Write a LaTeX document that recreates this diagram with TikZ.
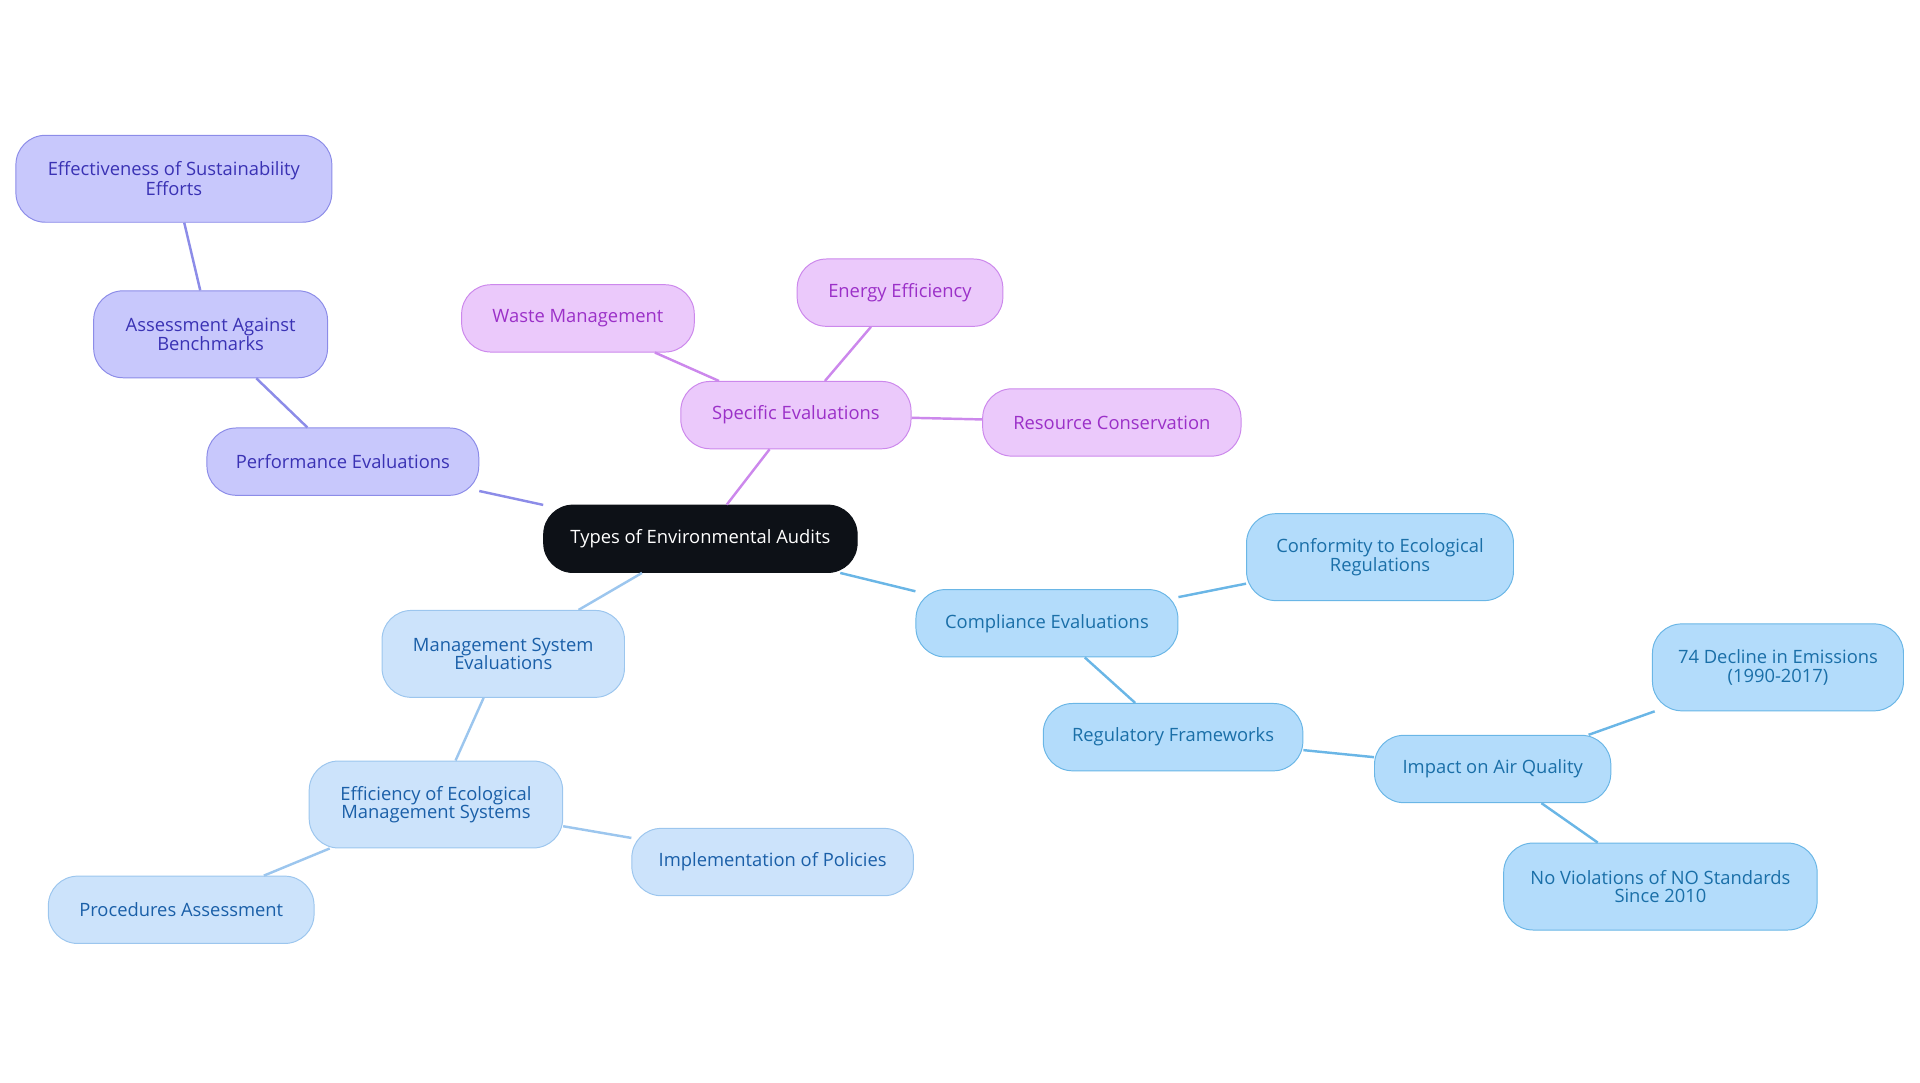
\documentclass[tikz,border=0pt]{standalone}
\usepackage{fontspec}
\setmainfont{Open Sans}
\definecolor{rootc}{HTML}{0D1117}
\definecolor{pf}{HTML}{EBC9FB}\definecolor{ps}{HTML}{CC88EC}\definecolor{pt}{HTML}{9B30C8}
\definecolor{vf}{HTML}{C8C8FC}\definecolor{vs}{HTML}{8C8CE8}\definecolor{vt}{HTML}{3A32B4}
\definecolor{lf}{HTML}{CCE3FB}\definecolor{ls}{HTML}{9CC6EE}\definecolor{lt}{HTML}{1A5FA8}
\definecolor{cf}{HTML}{B3DCFB}\definecolor{cs}{HTML}{6AB6E6}\definecolor{ct}{HTML}{1A6FA8}
\tikzset{
 base/.style={rounded corners=24pt, align=center, font=\fontsize{15}{15}\selectfont, inner sep=0pt, line width=0.8pt},
 rootn/.style={base, fill=rootc, draw=rootc, text=white},
 pur/.style={base, fill=pf, draw=ps, text=pt},
 vio/.style={base, fill=vf, draw=vs, text=vt},
 lbl/.style={base, fill=lf, draw=ls, text=lt},
 cya/.style={base, fill=cf, draw=cs, text=ct},
 pe/.style={ps, line width=2pt}, ve/.style={vs, line width=2pt},
 le/.style={ls, line width=2pt}, ce/.style={cs, line width=2pt}}
\begin{document}
\begin{tikzpicture}[x=1pt,y=-1pt]
\useasboundingbox (0,0) rectangle (1568,884);
\newcommand{\nd}[6]{\node[#1, minimum width=#4pt, minimum height=#5pt] (#2) at #3 {#6};}
\nd{rootn}{root}{(572,440)}{256}{55}{Types of Environmental Audits}
\nd{pur}{spec}{(650,339)}{188}{55}{Specific Evaluations}
\nd{pur}{waste}{(472,260)}{190}{55}{Waste Management}
\nd{pur}{energy}{(735,239)}{168}{55}{Energy Efficiency}
\nd{pur}{res}{(908,345)}{211}{55}{Resource Conservation}
\nd{vio}{perf}{(280,377)}{222}{55}{Performance Evaluations}
\nd{vio}{bench}{(172,273)}{191}{71}{Assessment Against\\Benchmarks}
\nd{vio}{sust}{(142,146)}{258}{71}{Effectiveness of Sustainability\\Efforts}
\nd{lbl}{mse}{(411,534)}{198}{71}{Management System\\Evaluations}
\nd{lbl}{eems}{(356,657)}{207}{71}{Efficiency of Ecological\\Management Systems}
\nd{lbl}{proc}{(148,743)}{217}{55}{Procedures Assessment}
\nd{lbl}{impl}{(631,704)}{230}{55}{Implementation of Policies}
\nd{cya}{comp}{(855,509)}{214}{55}{Compliance Evaluations}
\nd{cya}{conf}{(1127,455)}{218}{71}{Conformity to Ecological\\Regulations}
\nd{cya}{reg}{(958,602)}{212}{55}{Regulatory Frameworks}
\nd{cya}{air}{(1219,628)}{193}{55}{Impact on Air Quality}
\nd{cya}{decl}{(1452,545)}{205}{71}{74 Decline in Emissions\\(1990-2017)}
\nd{cya}{nov}{(1356,724)}{256}{71}{No Violations of NO Standards\\Since 2010}
\begin{scope}[on background layer/.style={}]
\end{scope}
\draw[pe] (root) -- (spec); \draw[pe] (spec) -- (waste); \draw[pe] (spec) -- (energy); \draw[pe] (spec) -- (res);
\draw[ve] (root) -- (perf); \draw[ve] (perf) -- (bench); \draw[ve] (bench) -- (sust);
\draw[le] (root) -- (mse); \draw[le] (mse) -- (eems); \draw[le] (eems) -- (proc); \draw[le] (eems) -- (impl);
\draw[ce] (root) -- (comp); \draw[ce] (comp) -- (conf); \draw[ce] (comp) -- (reg); \draw[ce] (reg) -- (air);
\draw[ce] (air) -- (decl); \draw[ce] (air) -- (nov);
\end{tikzpicture}
\end{document}
